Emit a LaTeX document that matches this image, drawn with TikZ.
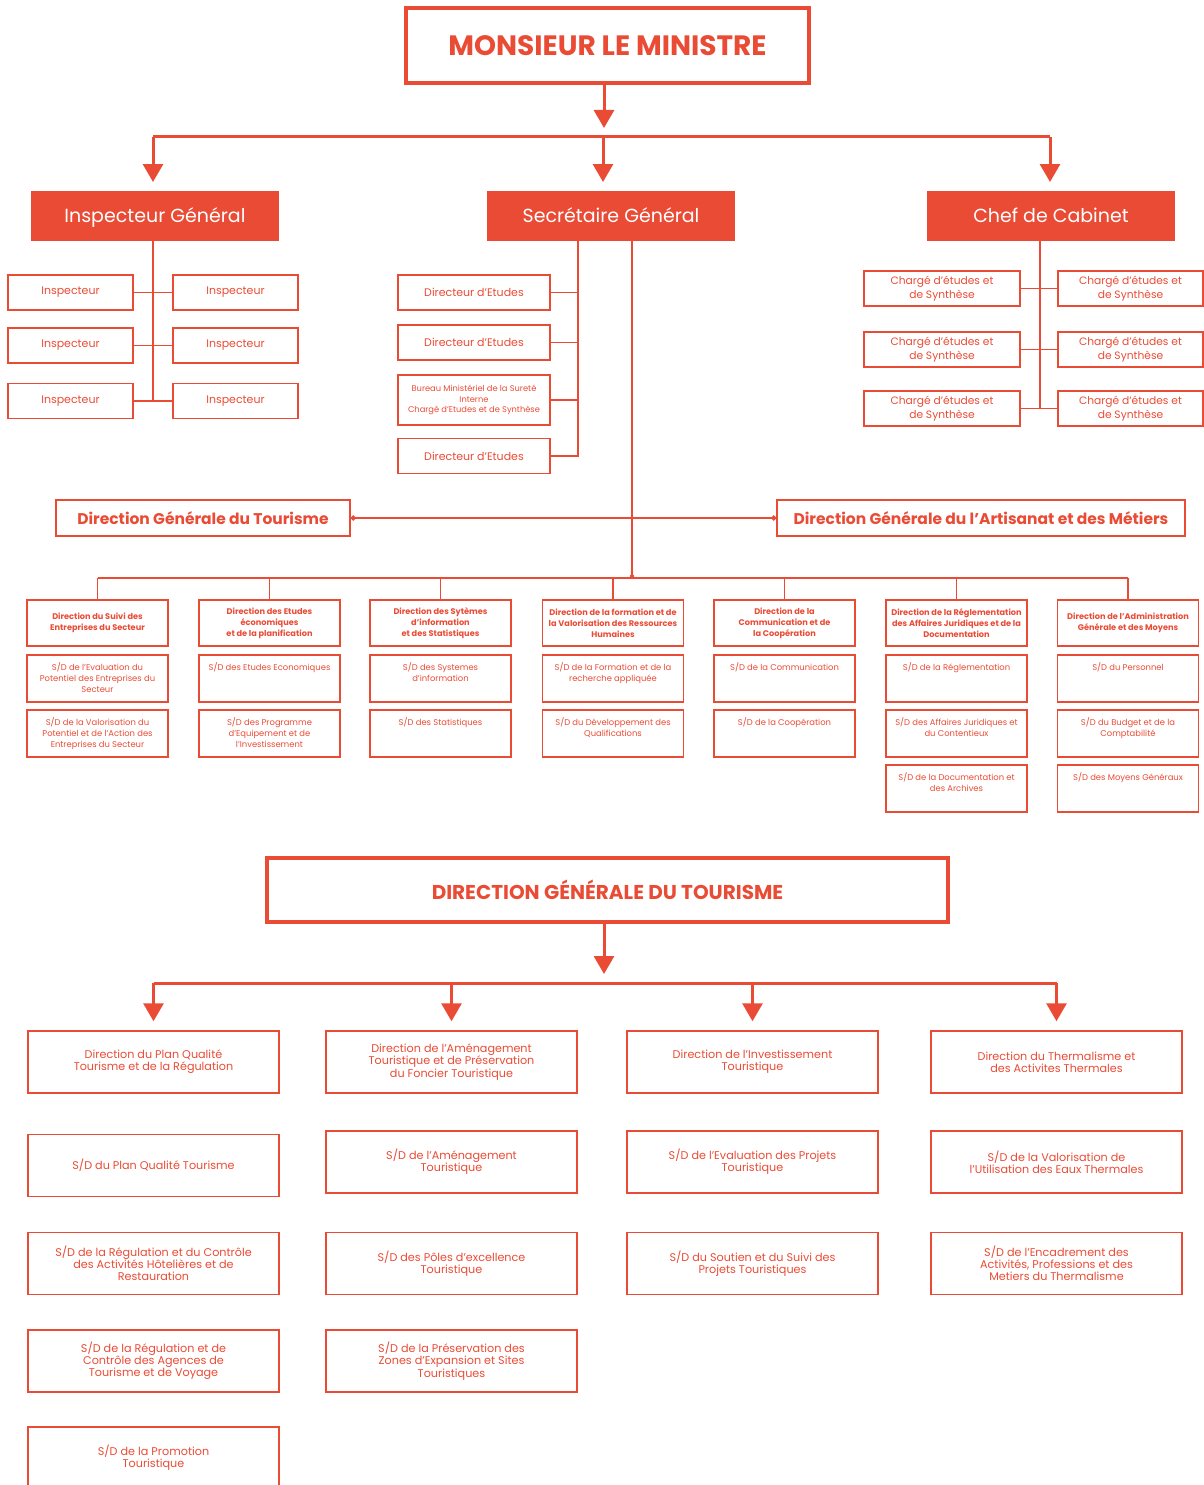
\documentclass[tikz,border=0pt]{standalone}
\usepackage{fontspec}
\setmainfont{Poppins}
\usetikzlibrary{arrows.meta,positioning}
\definecolor{rouge}{HTML}{E94B35}

\tikzset{
  fleche/.style={draw=rouge, line width=3pt, -{Triangle[width=20pt,length=18pt]}, shorten >=9pt},
  gros/.style={draw=rouge, line width=3pt},
  trait/.style={draw=rouge, line width=1.5pt},
  cadre/.style={draw=rouge, line width=3.5pt, text=rouge, font=\bfseries\fontsize{#1}{#1}\selectfont},
  chef/.style={fill=rouge, text=white, minimum width=248pt, minimum height=50pt, text height=13.4pt, text depth=0pt,
    font=\fontsize{19}{22}\selectfont},
  boite/.style={draw=rouge, line width=1.5pt, text=rouge, align=center, inner sep=1pt},
  insp/.style={boite, minimum width=125pt, minimum height=35pt, font=\fontsize{11}{13}\selectfont},
  direc/.style={boite, minimum width=152pt, minimum height=35pt, font=\fontsize{11}{13}\selectfont},
  charge/.style={boite, minimum width=#1, minimum height=35pt, font=\fontsize{10.7}{13.5}\selectfont},
  dg/.style={boite, minimum height=36pt, font=\bfseries\fontsize{15.5}{18}\selectfont},
  tete/.style={boite, minimum width=141pt, minimum height=46pt, font=\bfseries\fontsize{8.2}{11}\selectfont},
  sd/.style={draw=rouge, line width=1.5pt, minimum width=141pt, minimum height=47pt, inner sep=0pt,
    label={[sdtxt]north:#1}},
  sdtxt/.style={anchor=north, yshift=-8pt, align=center, text=rouge, inner sep=0pt, font=\fontsize{8.4}{11}\selectfont},
  bas/.style={boite, minimum width=251pt, minimum height=62pt, font=\fontsize{11.2}{12.2}\selectfont}
}

\begin{document}
\begin{tikzpicture}[x=1pt,y=-1pt]
\useasboundingbox (0,0) rectangle (1203,1485);

% sommet
\node[cadre=28, minimum width=403pt, minimum height=75pt] (min) at (607.5,45.5) {MONSIEUR LE MINISTRE};
\node[chef] (ig) at (155,216) {Inspecteur Général};
\node[chef] (sg) at (611,216) {Secrétaire Général};
\node[chef] (cc) at (1051,216) {Chef de Cabinet};

\coordinate (bus1) at (604,137);
\draw[fleche] (min.south -| bus1) -- (bus1);
\draw[gros] (153,137) -- (1050,137);
\draw[fleche] (153,137) -- (153,191);
\draw[fleche] (603,137) -- (603,191);
\draw[fleche] (1050,137) -- (1050,191);

% inspection
\node[insp] (i1g) at (70.5,292.5) {Inspecteur};
\node[insp] (i2g) at (70.5,345.5) {Inspecteur};
\node[insp] (i3g) at (70.5,401) {Inspecteur};
\node[insp] (i1d) at (235.5,292.5) {Inspecteur};
\node[insp] (i2d) at (235.5,345.5) {Inspecteur};
\node[insp] (i3d) at (235.5,401) {Inspecteur};
\coordinate (ig-b) at (153,241);
\draw[trait] (ig-b) -- (ig-b |- i3g.east);
\draw[trait] (i1g.east) -- (i1d.west);
\draw[trait] (i2g.east) -- (i2d.west);
\draw[trait] (i3g.east) -- (i3d.west);

% secretariat
\node[direc] (d1) at (474,292.5) {Directeur d'Etudes};
\node[direc] (d2) at (474,342.5) {Directeur d'Etudes};
\node[direc, minimum height=50pt, font=\fontsize{8.3}{10.5}\selectfont] (d3) at (474,400)
  {Bureau Ministériel de la Sureté\\Interne\\Chargé d'Etudes et de Synthèse};
\node[direc] (d4) at (474,456) {Directeur d'Etudes};
\coordinate (sg-g) at (578,241);
\coordinate (sg-d) at (632,241);
\draw[trait] (sg-g) |- (d4.east);
\draw[trait] (d1.east) -- (d1.east -| sg-g);
\draw[trait] (d2.east) -- (d2.east -| sg-g);
\draw[trait] (d3.east) -- (d3.east -| sg-g);

% cabinet
\node[charge=156pt] (c1g) at (942,288.5) {Chargé d'études et\\de Synthèse};
\node[charge=156pt] (c2g) at (942,349.5) {Chargé d'études et\\de Synthèse};
\node[charge=156pt] (c3g) at (942,408.5) {Chargé d'études et\\de Synthèse};
\node[charge=145pt] (c1d) at (1130.5,288.5) {Chargé d'études et\\de Synthèse};
\node[charge=145pt] (c2d) at (1130.5,349.5) {Chargé d'études et\\de Synthèse};
\node[charge=145pt] (c3d) at (1130.5,408.5) {Chargé d'études et\\de Synthèse};
\coordinate (cc-b) at (1040,241);
\draw[trait] (cc-b) -- (cc-b |- c3g.east);
\draw[trait] (c1g.east) -- (c1d.west);
\draw[trait] (c2g.east) -- (c2d.west);
\draw[trait] (c3g.east) -- (c3d.west);

% directions generales
\node[dg, minimum width=294pt] (dgt) at (203,518) {Direction Générale du Tourisme};
\node[dg, minimum width=408pt] (dgam) at (981,518) {Direction Générale du l'Artisanat et des Métiers};
\draw[trait, line width=2pt, {Circle[length=5pt]}-{Circle[length=5pt]}] (dgt.east) -- (dgam.west);

% directions centrales
\node[tete] (h1) at (97.5,623) {Direction du Suivi des\\Entreprises du Secteur};
\node[tete] (h2) at (269.5,623) {Direction des Etudes\\économiques\\et de la planification};
\node[tete] (h3) at (440.5,623) {Direction des Sytèmes\\d'information\\et des Statistiques};
\node[tete] (h4) at (613,623) {Direction de la formation et de\\la Valorisation des Ressources\\Humaines};
\node[tete] (h5) at (784.5,623) {Direction de la\\Communication et de\\la Coopération};
\node[tete] (h6) at (956.5,623) {Direction de la Réglementation\\des Affaires Juridiques et de la\\Documentation};
\node[tete] (h7) at (1128,623) {Direction de l'Administration\\Générale et des Moyens};

\node[sd={S/D de l'Evaluation du\\Potentiel des Entreprises du\\Secteur}] (s11) at (97.5,678.5) {};
\node[sd={S/D de la Valorisation du\\Potentiel et de l'Action des\\Entreprises du Secteur}] (s12) at (97.5,733.5) {};
\node[sd={S/D des Etudes Economiques}] (s21) at (269.5,678.5) {};
\node[sd={S/D des Programme\\d'Equipement et de\\l'Investissement}] (s22) at (269.5,733.5) {};
\node[sd={S/D des Systemes\\d'information}] (s31) at (440.5,678.5) {};
\node[sd={S/D des Statistiques}] (s32) at (440.5,733.5) {};
\node[sd={S/D de la Formation et de la\\recherche appliquée}] (s41) at (613,678.5) {};
\node[sd={S/D du Développement des\\Qualifications}] (s42) at (613,733.5) {};
\node[sd={S/D de la Communication}] (s51) at (784.5,678.5) {};
\node[sd={S/D de la Coopération}] (s52) at (784.5,733.5) {};
\node[sd={S/D de la Réglementation}] (s61) at (956.5,678.5) {};
\node[sd={S/D des Affaires Juridiques et\\du Contentieux}] (s62) at (956.5,733.5) {};
\node[sd={S/D de la Documentation et\\des Archives}] (s63) at (956.5,788.5) {};
\node[sd={S/D du Personnel}] (s71) at (1128,678.5) {};
\node[sd={S/D du Budget et de la\\Comptabilité}] (s72) at (1128,733.5) {};
\node[sd={S/D des Moyens Généraux}] (s73) at (1128,788.5) {};

\coordinate (bus2) at (632,578);
\draw[trait, -{Circle[length=4pt]}] (sg-d) -- (bus2);
\draw[trait] (h1.north |- bus2) -- (h7.north |- bus2);
\draw[trait] (h1.north |- bus2) -- (h1.north);
\draw[trait] (h2.north |- bus2) -- (h2.north);
\draw[trait] (h3.north |- bus2) -- (h3.north);
\draw[trait] (h4.north |- bus2) -- (h4.north);
\draw[trait] (h5.north |- bus2) -- (h5.north);
\draw[trait] (h6.north |- bus2) -- (h6.north);
\draw[trait] (h7.north |- bus2) -- (h7.north);

% direction generale du tourisme
\node[cadre=20, minimum width=681pt, minimum height=64pt] (dgt2) at (607.5,890) {DIRECTION GÉNÉRALE DU TOURISME};

\node[bas] (a1) at (153.5,1062) {Direction du Plan Qualité\\Tourisme et de la Régulation};
\node[bas] (a2) at (153.5,1165.5) {S/D du Plan Qualité Tourisme};
\node[bas] (a3) at (153.5,1263.5) {S/D de la Régulation et du Contrôle\\des Activités Hôtelières et de\\Restauration};
\node[bas] (a4) at (153.5,1361) {S/D de la Régulation et de\\Contrôle des Agences de\\Tourisme et de Voyage};
\node[bas] (a5) at (153.5,1458) {S/D de la Promotion\\Touristique};

\node[bas] (b1) at (451.5,1062) {Direction de l'Aménagement\\Touristique et de Préservation\\du Foncier Touristique};
\node[bas] (b2) at (451.5,1162) {S/D de l'Aménagement\\Touristique};
\node[bas] (b3) at (451.5,1263.5) {S/D des Pôles d'excellence\\Touristique};
\node[bas] (b4) at (451.5,1361) {S/D de la Préservation des\\Zones d'Expansion et Sites\\Touristiques};

\node[bas] (c1) at (752.5,1062) {Direction de l'Investissement\\Touristique};
\node[bas] (c2) at (752.5,1162) {S/D de l'Evaluation des Projets\\Touristique};
\node[bas] (c3) at (752.5,1263.5) {S/D du Soutien et du Suivi des\\Projets Touristiques};

\node[bas] (e1) at (1056.5,1062) {Direction du Thermalisme et\\des Activites Thermales};
\node[bas] (e2) at (1056.5,1162) {S/D de la Valorisation de\\l'Utilisation des Eaux Thermales};
\node[bas] (e3) at (1056.5,1263.5) {S/D de l'Encadrement des\\Activités, Professions et des\\Metiers du Thermalisme};

\coordinate (bus3) at (604,983);
\draw[fleche] (dgt2.south -| bus3) -- (bus3);
\draw[gros] (a1.north |- bus3) -- (e1.north |- bus3);
\draw[fleche] (a1.north |- bus3) -- (a1.north);
\draw[fleche] (b1.north |- bus3) -- (b1.north);
\draw[fleche] (c1.north |- bus3) -- (c1.north);
\draw[fleche] (e1.north |- bus3) -- (e1.north);
\end{tikzpicture}
\end{document}
